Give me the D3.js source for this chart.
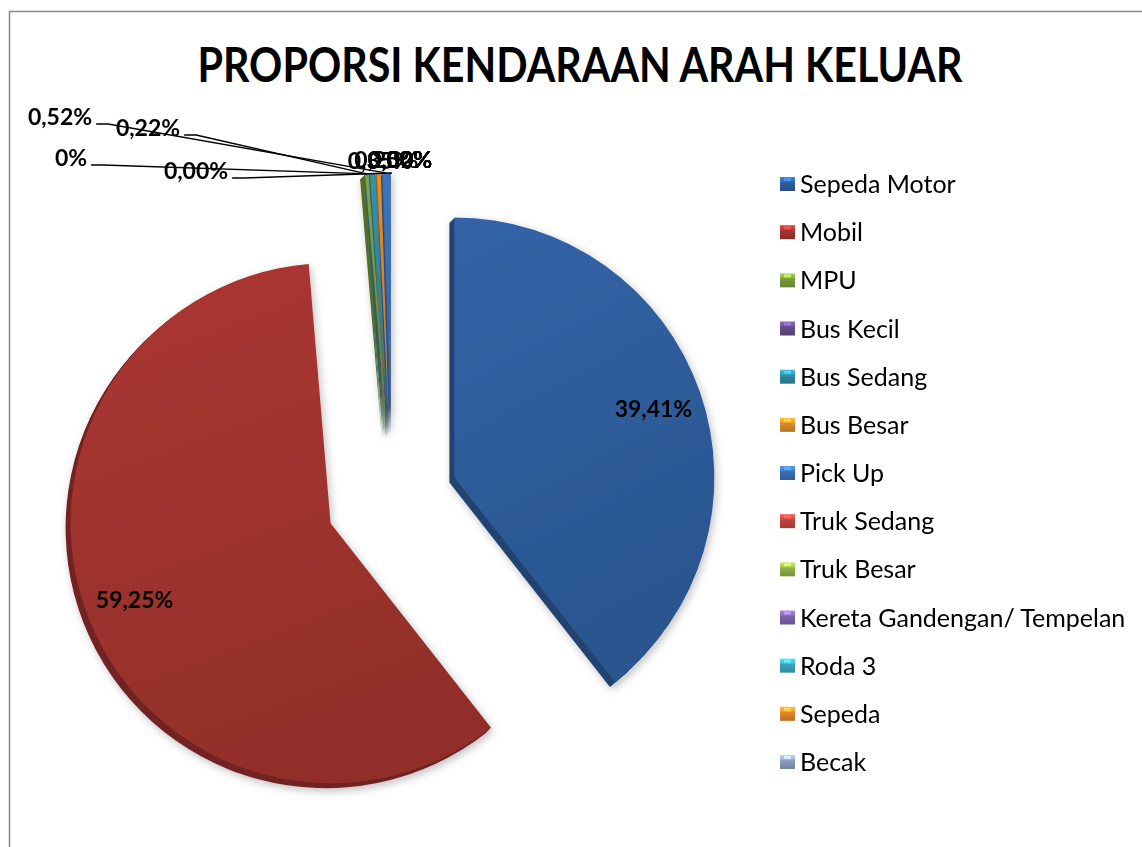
<!DOCTYPE html>
<html>
<head>
<meta charset="utf-8">
<script src="https://cdn.jsdelivr.net/npm/d3@7/dist/d3.min.js"></script>
<style>
  html, body { margin: 0; padding: 0; background: #ffffff; }
  svg { display: block; }
</style>
</head>
<body>
<svg id="chart" width="1142" height="847"></svg>
<script>
// Vehicle categories, in legend / slice order
const categories = [
  "Sepeda Motor", "Mobil", "MPU", "Bus Kecil", "Bus Sedang", "Bus Besar",
  "Pick Up", "Truk Sedang", "Truk Besar", "Kereta Gandengan/ Tempelan",
  "Roda 3", "Sepeda", "Becak"
];
// Share of outbound traffic, percent
const shares = [39.41, 59.25, 0.22, 0, 0.35, 0.25, 0.52, 0, 0, 0, 0, 0, 0];
// Decimal places shown in each data label
const labelDecimals = [2, 2, 2, 0, 2, 2, 2, 2, 2, 2, 2, 2, 2];
// Slice colours
const colors = [
  "#2f5f9f", "#a3342f", "#7b9b3e", "#654d8a", "#2f8aa3", "#d98a2b",
  "#3d6fb4", "#c2433f", "#8fb04a", "#7d62a8", "#3aa5c0", "#e2862c", "#8a9bbd"
];
const title = "PROPORSI KENDARAAN ARAH KELUAR";

// Labels that sit away from the pie with a leader line: [index, x, y]
const leaderLabels = [[6, 60, 125], [2, 148, 136], [3, 71, 166], [7, 196, 179]];

const svg = d3.select("#chart");
const W = 1142, H = 847;

const loc = d3.formatLocale({ decimal: ",", thousands: ".", grouping: [3], currency: ["", ""] });
const fmtLabel = (v, dec) => loc.format("." + dec + "f")(v) + "%";

// Chart area border
svg.append("path")
  .attr("d", `M9.5,${H} V11.5 H${W}`)
  .attr("fill", "none").attr("stroke", "#868686").attr("stroke-width", 1.5);

// Title
svg.append("text")
  .attr("x", 580).attr("y", 82)
  .attr("text-anchor", "middle")
  .attr("font-family", "Lato, 'Open Sans', sans-serif")
  .attr("font-weight", "bold").attr("font-size", 48)
  .attr("textLength", 765).attr("lengthAdjust", "spacingAndGlyphs")
  .text(title);

const defs = svg.append("defs");
const shadow = defs.append("filter").attr("id", "shadow")
  .attr("x", "-20%").attr("y", "-20%").attr("width", "140%").attr("height", "140%");
shadow.append("feDropShadow").attr("dx", 2).attr("dy", 3)
  .attr("stdDeviation", 4).attr("flood-color", "#000").attr("flood-opacity", 0.25);

colors.forEach((c, i) => {
  const g = defs.append("linearGradient").attr("id", "face" + i)
    .attr("x1", 0).attr("y1", 0).attr("x2", 0.3).attr("y2", 1);
  g.append("stop").attr("offset", "0%").attr("stop-color", d3.color(c).brighter(0.15));
  g.append("stop").attr("offset", "100%").attr("stop-color", d3.color(c).darker(0.3));
  const lg = defs.append("linearGradient").attr("id", "key" + i)
    .attr("x1", 0).attr("y1", 0).attr("x2", 0).attr("y2", 1);
  lg.append("stop").attr("offset", "0%").attr("stop-color", d3.color(c).brighter(0.9));
  lg.append("stop").attr("offset", "35%").attr("stop-color", d3.color(c).brighter(0.3));
  lg.append("stop").attr("offset", "40%").attr("stop-color", c);
  lg.append("stop").attr("offset", "100%").attr("stop-color", d3.color(c).darker(0.5));
});

// Pie geometry
const cx = 392, cy = 499, R = 260, explode = 66, depth = 5;
const pie = d3.pie().sort(null).value(d => d.v).startAngle(0).endAngle(2 * Math.PI);
const arcs = pie(categories.map((name, i) => ({ name, v: shares[i], i })));
const arc = d3.arc().innerRadius(0).outerRadius(R);
const offset = a => {
  const m = (a.startAngle + a.endAngle) / 2;
  return [explode * Math.sin(m), -explode * Math.cos(m)];
};

const pieG = svg.append("g").attr("transform", `translate(${cx},${cy})`);
const body = pieG.append("g").attr("filter", "url(#shadow)");

// Side walls: stacked darker copies give the slices depth
arcs.filter(a => a.data.v > 0).forEach(a => {
  const [ox, oy] = offset(a);
  for (let k = depth; k >= 1; k--) {
    body.append("path")
      .attr("d", arc(a))
      .attr("transform", `translate(${ox - k},${oy + k})`)
      .attr("fill", d3.color(colors[a.data.i]).darker(1.0));
  }
});
// Slice faces
body.selectAll("path.face")
  .data(arcs.filter(a => a.data.v > 0))
  .join("path")
  .attr("class", "face")
  .attr("d", arc)
  .attr("transform", a => `translate(${offset(a)})`)
  .attr("fill", a => `url(#face${a.data.i})`);

const labelFont = "Lato, 'Open Sans', sans-serif";
const labelSize = 23;
const outerPoint = (a, rr) => {
  const m = (a.startAngle + a.endAngle) / 2;
  const [ox, oy] = offset(a);
  return [ox + rr * Math.sin(m), oy - rr * Math.cos(m)];
};

// Large slices: labels inside near the edge
arcs.filter(a => a.data.v > 5).forEach(a => {
  const [x, y] = outerPoint(a, R * 0.81);
  pieG.append("text")
    .attr("x", x).attr("y", y).attr("dy", "0.35em")
    .attr("text-anchor", "middle")
    .attr("font-family", labelFont).attr("font-weight", "bold").attr("font-size", labelSize)
    .text(fmtLabel(a.data.v, labelDecimals[a.data.i]));
});

// Leader-line labels for thin slices
const leaderIdx = new Set(leaderLabels.map(d => d[0]));
leaderLabels.forEach(([i, lx, ly]) => {
  const a = arcs[i];
  const [px, py] = outerPoint(a, R);
  const t = svg.append("text")
    .attr("x", lx).attr("y", ly)
    .attr("text-anchor", "middle")
    .attr("font-family", labelFont).attr("font-weight", "bold").attr("font-size", labelSize)
    .text(fmtLabel(a.data.v, labelDecimals[i]));
  const bw = t.node().getComputedTextLength();
  const sx = lx + bw / 2 + 4, sy = ly - 1;
  svg.append("path")
    .attr("d", `M${sx},${sy} H${sx + 12} L${cx + px},${cy + py}`)
    .attr("fill", "none").attr("stroke", "#000").attr("stroke-width", 1.3);
});

// Remaining thin slices: labels just outside the rim
arcs.forEach(a => {
  if (a.data.v > 5 || leaderIdx.has(a.data.i)) return;
  const [x, y] = outerPoint(a, R + 13);
  pieG.append("text")
    .attr("x", x + 8).attr("y", y).attr("dy", "0.35em")
    .attr("text-anchor", "middle")
    .attr("font-family", labelFont).attr("font-weight", "bold").attr("font-size", labelSize)
    .text(fmtLabel(a.data.v, labelDecimals[a.data.i]));
});

// Legend
const legendY = d3.scalePoint().domain(categories).range([184, 762]);
const legend = svg.append("g");
categories.forEach((name, i) => {
  const y = legendY(name);
  legend.append("rect")
    .attr("x", 780).attr("y", y - 7).attr("width", 15).attr("height", 14)
    .attr("fill", `url(#key${i})`);
  legend.append("rect")
    .attr("x", 784).attr("y", y - 6).attr("width", 7).attr("height", 3)
    .attr("fill", d3.color(colors[i]).brighter(1.4)).attr("opacity", 0.8);
  legend.append("text")
    .attr("x", 800).attr("y", y).attr("dy", "0.36em")
    .attr("font-family", labelFont).attr("font-size", 25)
    .attr("fill", "#000")
    .text(name);
});
</script>
</body>
</html>
